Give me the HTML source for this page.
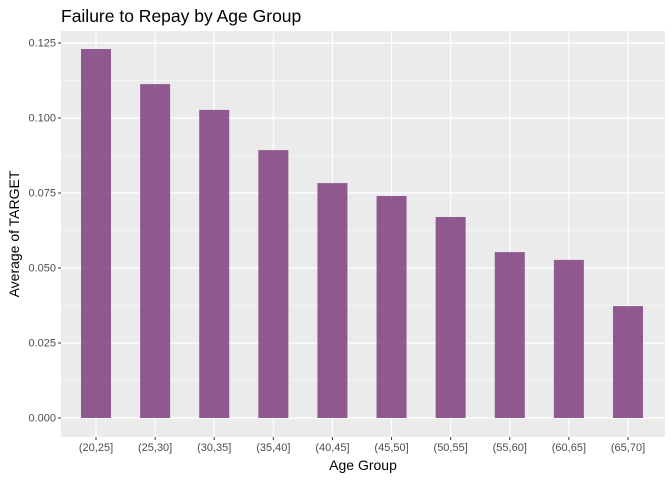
<!DOCTYPE html>
<html><head><meta charset="utf-8"><style>body{margin:0;background:#fff}svg{display:block;font-family:"Liberation Sans",sans-serif}</style></head>
<body>
<svg id="c" width="672" height="480"></svg>
<script>
const categories=["(20,25]","(25,30]","(30,35]","(35,40]","(40,45]","(45,50]","(50,55]","(55,60]","(60,65]","(65,70]"];
const values=[0.1230,0.1113,0.1027,0.0893,0.0783,0.0740,0.0670,0.0553,0.0527,0.0373];
const yTicks=[0,0.025,0.05,0.075,0.1,0.125];
const yTickLabels=["0.000","0.025","0.050","0.075","0.100","0.125"];
const svg=document.getElementById('c');const NS="http://www.w3.org/2000/svg";
function mk(t,a,p){const e=document.createElementNS(NS,t);for(const k in a)e.setAttribute(k,a[k]);(p||svg).appendChild(e);return e;}
const L=61,R=665,T=31,B=437;
const y=v=>418-v*3000;
const x0=96,x1=628;
const step=(x1-x0)/(categories.length-1);
const x=i=>x0+step*i;
const bg=mk('rect',{x:L,y:T,width:R-L,height:B-T,fill:'#ebebeb'});


yTicks.forEach((v,i)=>{
 if(i<yTicks.length-1){const m=mk('line',{x1:L,x2:R,y1:y(v+0.0125),y2:y(v+0.0125),stroke:'#fff','stroke-width':0.6});
 }
 const g=mk('line',{x1:L,x2:R,y1:y(v),y2:y(v),stroke:'#fff','stroke-width':1.2});
 
 const tk=mk('line',{x1:L-3,x2:L,y1:y(v),y2:y(v),stroke:'#333','stroke-width':1});
 
 const t=mk('text',{x:L-5,y:y(v)+3.5,'text-anchor':'end','font-size':'11',fill:'#4d4d4d'});t.textContent=yTickLabels[i];
 
});
categories.forEach((c,i)=>{
 const g=mk('line',{x1:x(i),x2:x(i),y1:T,y2:B,stroke:'#fff','stroke-width':1.2});
 
});
categories.forEach((c,i)=>{
 const b=mk('rect',{x:x(i)-15,y:y(values[i]),width:30,height:y(0)-y(values[i]),fill:'#7f3f7f','fill-opacity':0.85});
 
 const tk=mk('line',{x1:x(i),x2:x(i),y1:B,y2:B+3,stroke:'#333','stroke-width':1});
 
 const t=mk('text',{x:x(i),y:B+14,'text-anchor':'middle','font-size':'11',fill:'#4d4d4d'});t.textContent=c;
 
});
const ti=mk('text',{x:61,y:22,'font-size':'17.5',fill:'#000'});ti.textContent='Failure to Repay by Age Group';

const xl=mk('text',{x:(L+R)/2,y:470,'text-anchor':'middle','font-size':'14',fill:'#000'});xl.textContent='Age Group';

const yl=mk('text',{x:0,y:0,'text-anchor':'middle','font-size':'14',fill:'#000',transform:'translate(19,'+((T+B)/2)+') rotate(-90)'});yl.textContent='Average of TARGET';

</script>
</body></html>
